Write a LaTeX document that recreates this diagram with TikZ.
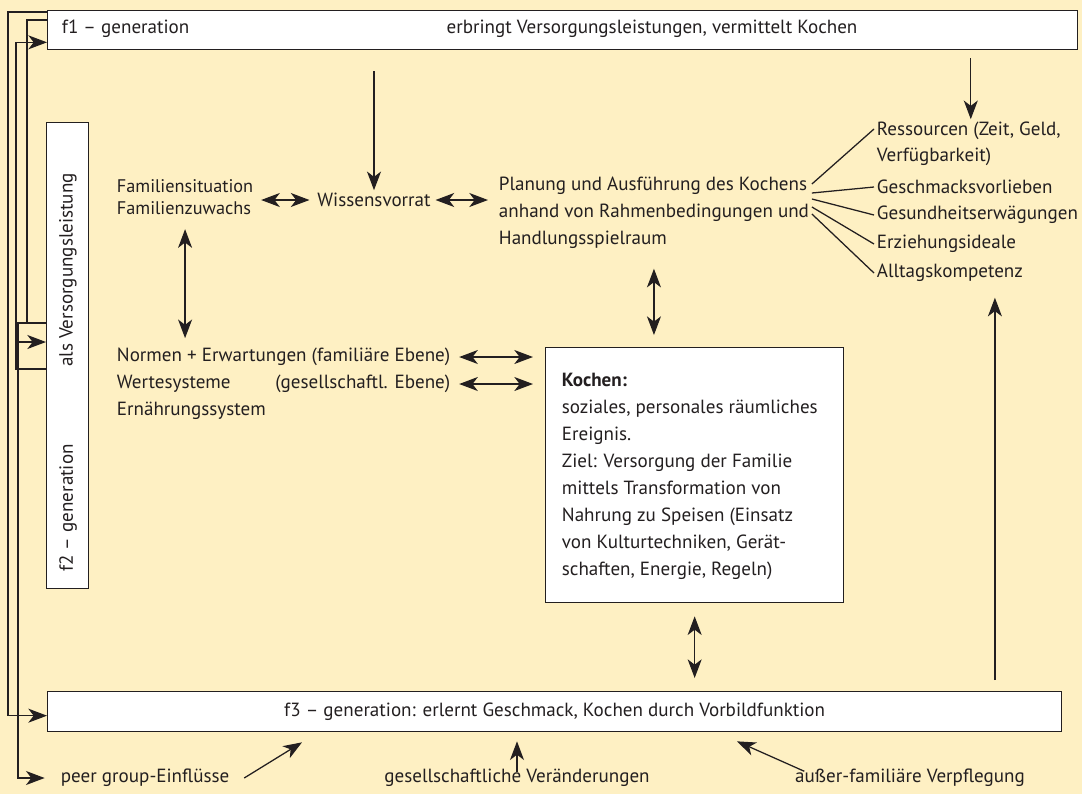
\documentclass[tikz,border=0pt]{standalone}
\usepackage{fontspec}
\setmainfont{PT Sans}
\usepackage{tikz}
\usetikzlibrary{arrows.meta}
\newlength\px
\setlength\px{0.75pt}
\definecolor{bgyellow}{RGB}{254,240,195}
\definecolor{ink}{RGB}{35,31,32}

\begin{document}
\begin{tikzpicture}[x=0.75pt,y=0.75pt,yscale=-1,xscale=1,
  txt/.style={font=\fontsize{14.3}{20.25}\selectfont, text=ink, inner sep=2pt, align=left},
  genbox/.style={draw=ink, fill=white, line width=1pt, inner sep=0pt},
  arr/.style={draw=ink, line width=0.95pt, -{Stealth[length=14pt,width=10.5pt,inset=4pt]}},
  dbl/.style={draw=ink, line width=0.95pt, {Stealth[length=14pt,width=10.5pt,inset=4pt]}-{Stealth[length=14pt,width=10.5pt,inset=4pt]}},
  feed/.style={draw=ink, line width=0.95pt}
]
%Background
\fill[bgyellow] (0,0) rectangle (1082,794);
\useasboundingbox (0,0) rectangle (1082,794);

%Shape: Rectangle f1
\node[genbox, anchor=north west, minimum width=1030\px, minimum height=39\px] (f1) at (47,10) {};
\node[txt, anchor=west] (f1name) at (59,29) {f1 – generation};
\node[txt] (f1task) at (652,29) {erbringt Versorgungsleistungen, vermittelt Kochen};

%Shape: Rectangle f2
\node[genbox, anchor=north west, minimum width=42\px, minimum height=466\px] (f2) at (46,122) {};
\node[txt, rotate=90] (f2task) at (68,270) {als Versorgungsleistung};
\node[txt, rotate=90] (f2name) at (68,508) {f2 – generation};

%Shape: Rectangle f3
\node[genbox, txt, anchor=north west, minimum width=1014\px, minimum height=40\px] (f3) at (47,691) {f3 – generation: erlernt Geschmack, Kochen durch Vorbildfunktion};

%Shape: Rectangle Kochen
\node[genbox, anchor=north west, minimum width=298\px, minimum height=255\px] (kochen) at (545,347) {};
\node[txt, anchor=west] (kochentxt) at (559,476) {\textbf{Kochen:}\\soziales, personales räumliches\\Ereignis.\\Ziel: Versorgung der Familie\\mittels Transformation von\\Nahrung zu Speisen (Einsatz\\von Kulturtechniken, Gerät-\\schaften, Energie, Regeln)};

%Text Nodes
\node[txt, anchor=west, font=\fontsize{13.7}{16}\selectfont] (famsit) at (114,197) {Familiensituation\\Familienzuwachs};
\node[txt] (wissen) at (374,200) {Wissensvorrat};
\node[txt, anchor=west] (planung) at (496,213) {Planung und Ausführung des Kochens\\anhand von Rahmenbedingungen und\\Handlungsspielraum};

\node[txt, anchor=west, font=\fontsize{14.3}{19.5}\selectfont] (res) at (874,144) {Ressourcen (Zeit, Geld,\\Verfügbarkeit)};
\node[txt, anchor=west] (gesch) at (874,187) {Geschmacksvorlieben};
\node[txt, anchor=west] (gesund) at (874,215) {Gesundheitserwägungen};
\node[txt, anchor=west] (erz) at (874,244) {Erziehungsideale};
\node[txt, anchor=west] (alltag) at (874,273) {Alltagskompetenz};

\node[txt, anchor=west] (normA) at (114,357) {Normen + Erwartungen (familiäre Ebene)};
\node[txt, anchor=west] (normB) at (114,384) {Wertesysteme};
\node[txt, anchor=east] (normB2) at (normA.east |- normB.east) {(gesellschaftl. Ebene)};
\node[txt, anchor=west] (normC) at (114,411) {Ernährungssystem};

\node[txt, anchor=west] (peer) at (58,778) {peer group-Einflüsse};
\node[txt] (gesell) at (517,778) {gesellschaftliche Veränderungen};
\node[txt] (ausser) at (910,778) {außer-familiäre Verpflegung};

\coordinate (resin) at ([xshift=2\px]res.north);
\coordinate (upto) at ([xshift=45\px,yshift=13\px]alltag.south);

%Straight Lines: left feedback
\draw[arr] ([yshift=2\px]f1.north west) -- ++(-39\px,0) |- ([yshift=4\px]f3.west);
\draw[feed] ([yshift=10\px]f1.north west) -- ++(-20\px,0) |- ([yshift=201\px]f2.north west);
\draw[arr, shorten >=10pt] ([xshift=-19\px,yshift=201\px]f2.north west) -- ++(-9\px,0) |- (peer.west);
\draw[arr] ([xshift=-28\px,yshift=220\px]f2.north west) -- ([yshift=220\px]f2.north west);
\draw[arr] ([yshift=247\px]f2.north west) -- ++(-30\px,0) |- ([yshift=-8\px]f1.south west);

%Straight Lines: top
\draw[arr, shorten <=21\px] (f1.south -| wissen.north) -- (wissen.north);
\draw[arr, shorten <=8\px] (f1.south -| resin) -- (resin);
\draw[dbl, shorten <=5\px, shorten >=5\px] (wissen.west -| famsit.east) -- (wissen.west);
\draw[dbl, shorten <=2\px, shorten >=8\px] (wissen.east) -- (wissen.east -| planung.west);

%Straight Lines: to the list
\draw[feed] ([yshift=-29\px]planung.east) -- ([yshift=-15\px]res.west);
\draw[feed] ([yshift=-20\px]planung.east) -- (gesch.west);
\draw[feed] ([yshift=-14\px]planung.east) -- (gesund.west);
\draw[feed] ([yshift=-6\px]planung.east) -- (erz.west);
\draw[feed] ([yshift=1\px]planung.east) -- (alltag.west);

%Straight Lines: middle
\draw[dbl, shorten <=12\px, shorten >=7\px] (famsit.south) -- (famsit.south |- normA.north);
\draw[dbl, shorten <=17\px, shorten >=12\px] (planung.south) -- (planung.south |- kochen.north);
\draw[dbl, shorten <=6\px, shorten >=12\px] (normA.east) -- (normA.east -| kochen.west);
\draw[dbl, shorten <=6\px, shorten >=12\px] (normB2.east) -- (normB2.east -| kochen.west);
\draw[dbl, shorten <=13\px, shorten >=13\px] (kochen.south) -- (kochen.south |- f3.north);
\draw[arr, shorten <=11\px] (f3.north -| upto) -- (upto);

%Straight Lines: bottom
\draw[arr] ([xshift=12\px]peer.east) -- ([xshift=255\px,yshift=10\px]f3.south west);
\draw[arr] ([yshift=6\px]gesell.north) -- ([yshift=9\px]gesell.north |- f3.south);
\draw[arr] ([xshift=12\px,yshift=5\px]ausser.north west) -- ([xshift=690\px,yshift=9\px]f3.south west);
\end{tikzpicture}
\end{document}
